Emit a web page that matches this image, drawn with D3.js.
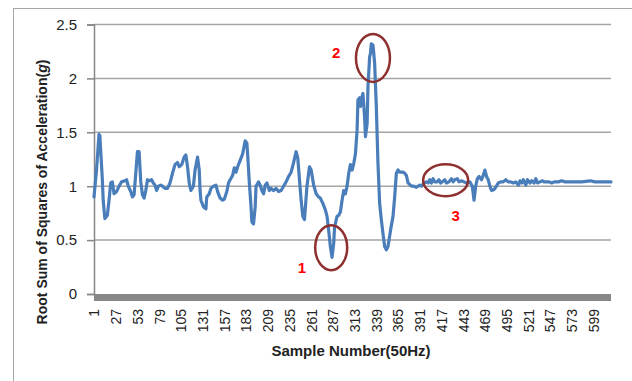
<!DOCTYPE html>
<html>
<head>
<meta charset="utf-8">
<script src="https://cdn.jsdelivr.net/npm/d3@7"></script>
<style>
  html, body { margin: 0; padding: 0; background: #fff; }
  svg { display: block; font-family: "Liberation Sans", Arial, sans-serif; }
</style>
</head>
<body>
<div id="chart"></div>
<script>
// sample numbers (vertices of the trace) and the RSS acceleration read at each
const sampleIdx = [1, 4, 7, 8, 11, 12, 14, 17, 19, 21, 23, 25, 28, 31, 34, 38, 40, 42, 45, 47, 49, 51, 53, 55, 57, 59, 61, 63, 65, 67, 70, 72, 74, 76, 78, 81, 83, 86, 89, 92, 95, 98, 101, 103, 106, 109, 111, 113, 115, 117, 120, 122, 124, 125, 127, 128, 129, 132, 135, 136, 139, 141, 144, 147, 149, 152, 155, 157, 160, 162, 164, 167, 169, 171, 173, 176, 179, 182, 184, 185, 187, 189, 190, 192, 194, 195, 198, 200, 202, 204, 206, 208, 211, 213, 216, 219, 222, 225, 228, 231, 234, 237, 240, 243, 245, 247, 249, 251, 253, 256, 259, 261, 264, 267, 270, 272, 275, 278, 280, 282, 284, 286, 288, 289, 292, 294, 296, 298, 300, 302, 304, 306, 308, 310, 312, 314, 316, 317, 319, 320, 322, 323, 325, 326, 328, 329, 331, 332, 333, 335, 336, 337, 339, 341, 343, 345, 347, 349, 351, 353, 356, 359, 361, 363, 365, 367, 371, 373, 375, 377, 381, 384, 387, 391, 393, 396, 399, 401, 403, 405, 407, 409, 412, 414, 416, 418, 421, 423, 426, 429, 431, 433, 436, 438, 441, 444, 447, 451, 454, 456, 458, 460, 462, 465, 467, 469, 471, 473, 475, 477, 480, 482, 485, 488, 491, 494, 497, 500, 503, 506, 509, 511, 513, 515, 518, 520, 523, 525, 528, 530, 532, 535, 538, 540, 543, 546, 549, 552, 557, 561, 565, 571, 577, 585, 595, 601, 613, 620];
const rssValues = [0.90, 1.15, 1.48, 1.47, 1.06, 0.87, 0.70, 0.73, 0.87, 1.03, 1.04, 0.93, 0.95, 1.00, 1.04, 1.05, 1.06, 1.00, 0.95, 0.90, 0.92, 1.12, 1.32, 1.32, 1.04, 0.92, 0.89, 0.96, 1.06, 1.05, 1.06, 1.03, 1.01, 0.96, 1.00, 1.01, 1.00, 0.98, 0.98, 1.03, 1.12, 1.20, 1.22, 1.18, 1.20, 1.27, 1.29, 1.18, 1.03, 0.96, 1.00, 1.15, 1.23, 1.27, 1.15, 0.96, 0.87, 0.81, 0.79, 0.90, 0.93, 0.98, 1.00, 1.01, 0.95, 0.89, 0.87, 0.88, 0.95, 1.03, 1.06, 1.10, 1.17, 1.13, 1.18, 1.24, 1.30, 1.42, 1.40, 1.29, 1.03, 0.81, 0.67, 0.65, 0.81, 1.00, 1.04, 1.01, 0.96, 0.93, 1.01, 1.03, 0.96, 0.98, 0.96, 0.98, 0.95, 0.96, 1.00, 1.04, 1.09, 1.13, 1.22, 1.32, 1.26, 1.06, 0.87, 0.72, 0.69, 1.00, 1.18, 1.15, 1.01, 0.93, 0.90, 0.89, 0.84, 0.78, 0.72, 0.59, 0.44, 0.34, 0.47, 0.62, 0.72, 0.73, 0.76, 0.87, 0.96, 0.93, 1.00, 1.12, 1.20, 1.15, 1.21, 1.30, 1.52, 1.80, 1.82, 1.74, 1.83, 1.86, 1.64, 1.46, 1.58, 1.92, 2.20, 2.23, 2.32, 2.31, 2.23, 2.14, 1.74, 1.21, 0.84, 0.69, 0.56, 0.44, 0.41, 0.44, 0.59, 0.72, 0.90, 1.12, 1.15, 1.13, 1.13, 1.12, 1.10, 1.03, 1.00, 1.00, 0.99, 1.01, 1.00, 1.03, 1.04, 1.03, 1.06, 1.03, 1.07, 1.04, 1.04, 1.06, 1.03, 1.04, 1.06, 1.03, 1.04, 1.07, 1.04, 1.06, 1.07, 1.04, 1.05, 1.04, 1.03, 1.04, 1.00, 0.87, 1.00, 1.07, 1.09, 1.06, 1.10, 1.15, 1.09, 1.06, 1.00, 0.96, 0.97, 0.99, 1.03, 1.04, 1.04, 1.06, 1.04, 1.04, 1.03, 1.04, 1.01, 1.05, 1.03, 1.06, 1.01, 1.06, 1.03, 1.05, 1.03, 1.07, 1.03, 1.04, 1.05, 1.04, 1.04, 1.04, 1.03, 1.04, 1.04, 1.05, 1.04, 1.04, 1.04, 1.04, 1.05, 1.04, 1.04, 1.04];

const xTickLabels = [1, 27, 53, 79, 105, 131, 157, 183, 209, 235, 261, 287, 313, 339, 365, 391, 417, 443, 469, 495, 521, 547, 573, 599];
const yTicks = [0, 0.5, 1, 1.5, 2, 2.5];

// circled events: [sample, value] of ellipse centre and of the red number
const markNames = ['1', '2', '3'];
const markCentres = [[285, 0.43], [335, 2.19], [422, 1.055]];
const markLabelPos = [[250, 0.24], [291, 2.24], [434, 0.73]];

const width = 632, height = 381;
const plot = { left: 94, right: 611, top: 24.5, bottom: 294 };

const svg = d3.select('#chart').append('svg')
  .attr('width', width)
  .attr('height', height);

// outer frame (runs off the right and bottom of the picture)
svg.append('rect')
  .attr('x', 13.5).attr('y', 8.5)
  .attr('width', 700).attr('height', 500)
  .attr('fill', 'none')
  .attr('stroke', '#a6a6a6')
  .attr('stroke-width', 1);

const x = d3.scaleLinear()
  .domain([1, 620])
  .range([plot.left, plot.right]);

const y = d3.scaleLinear()
  .domain([0, 2.5])
  .range([plot.bottom, plot.top]);

// gridlines
svg.append('g')
  .selectAll('line')
  .data(yTicks.filter(d => d > 0))
  .enter()
  .append('line')
  .attr('x1', plot.left).attr('x2', plot.right)
  .attr('y1', d => y(d)).attr('y2', d => y(d))
  .attr('stroke', '#a5a5a5')
  .attr('stroke-width', 1.5);

// y axis
const yAxis = svg.append('g')
  .attr('transform', `translate(${plot.left},0)`)
  .call(d3.axisLeft(y).tickValues(yTicks).tickSize(7).tickPadding(10).tickFormat(d3.format('')));
yAxis.select('.domain').attr('stroke', '#868686').attr('stroke-width', 1.5);
yAxis.selectAll('.tick line').attr('stroke', '#868686').attr('stroke-width', 1.5);
yAxis.selectAll('text')
  .style('font-size', '15px')
  .style('fill', '#222');

// thick grey category axis
svg.append('rect')
  .attr('x', plot.left).attr('y', plot.bottom)
  .attr('width', plot.right - plot.left).attr('height', 7)
  .attr('fill', '#878787');

const xAxis = svg.append('g')
  .attr('transform', `translate(0,${plot.bottom + 7})`)
  .call(d3.axisBottom(x).tickValues(xTickLabels).tickSize(0).tickPadding(0));
xAxis.select('.domain').remove();
xAxis.selectAll('text')
  .attr('transform', 'rotate(-90)')
  .attr('text-anchor', 'end')
  .attr('x', -8)
  .attr('y', 0)
  .attr('dy', '0.35em')
  .style('font-size', '14px')
  .style('fill', '#222');

// trace
const pts = sampleIdx.map((s, i) => [s, rssValues[i]]);
const line = d3.line()
  .x(d => x(d[0]))
  .y(d => y(d[1]));

svg.append('path')
  .datum(pts)
  .attr('fill', 'none')
  .attr('stroke', '#4a7ebb')
  .attr('stroke-width', 3.2)
  .attr('stroke-linejoin', 'round')
  .attr('stroke-linecap', 'round')
  .attr('d', line);

// annotations
const rx = [16, 17, 22.5], ry = [22.5, 24, 16];
svg.append('g')
  .selectAll('ellipse')
  .data(markCentres)
  .enter()
  .append('ellipse')
  .attr('cx', d => x(d[0]))
  .attr('cy', d => y(d[1]))
  .attr('rx', (d, i) => rx[i])
  .attr('ry', (d, i) => ry[i])
  .attr('fill', 'none')
  .attr('stroke', '#8e3030')
  .attr('stroke-width', 2.5);

svg.append('g')
  .selectAll('text')
  .data(markLabelPos)
  .enter()
  .append('text')
  .attr('x', d => x(d[0]))
  .attr('y', d => y(d[1]))
  .attr('dy', '0.35em')
  .attr('text-anchor', 'middle')
  .style('font-size', '15px')
  .style('font-weight', 'bold')
  .style('fill', '#ff0000')
  .text((d, i) => markNames[i]);

// axis titles
svg.append('text')
  .attr('transform', 'translate(47,192) rotate(-90)')
  .attr('text-anchor', 'middle')
  .style('font-size', '14px')
  .style('font-weight', 'bold')
  .style('fill', '#222')
  .text('Root Sum of Squares of Acceleration(')
  .append('tspan').style('font-style', 'italic').text('g')
  .select(function () { return this.parentNode; })
  .append('tspan').text(')');

svg.append('text')
  .attr('x', 351)
  .attr('y', 356)
  .attr('text-anchor', 'middle')
  .style('font-size', '15px')
  .style('font-weight', 'bold')
  .style('fill', '#222')
  .text('Sample Number(50Hz)');
</script>
</body>
</html>
